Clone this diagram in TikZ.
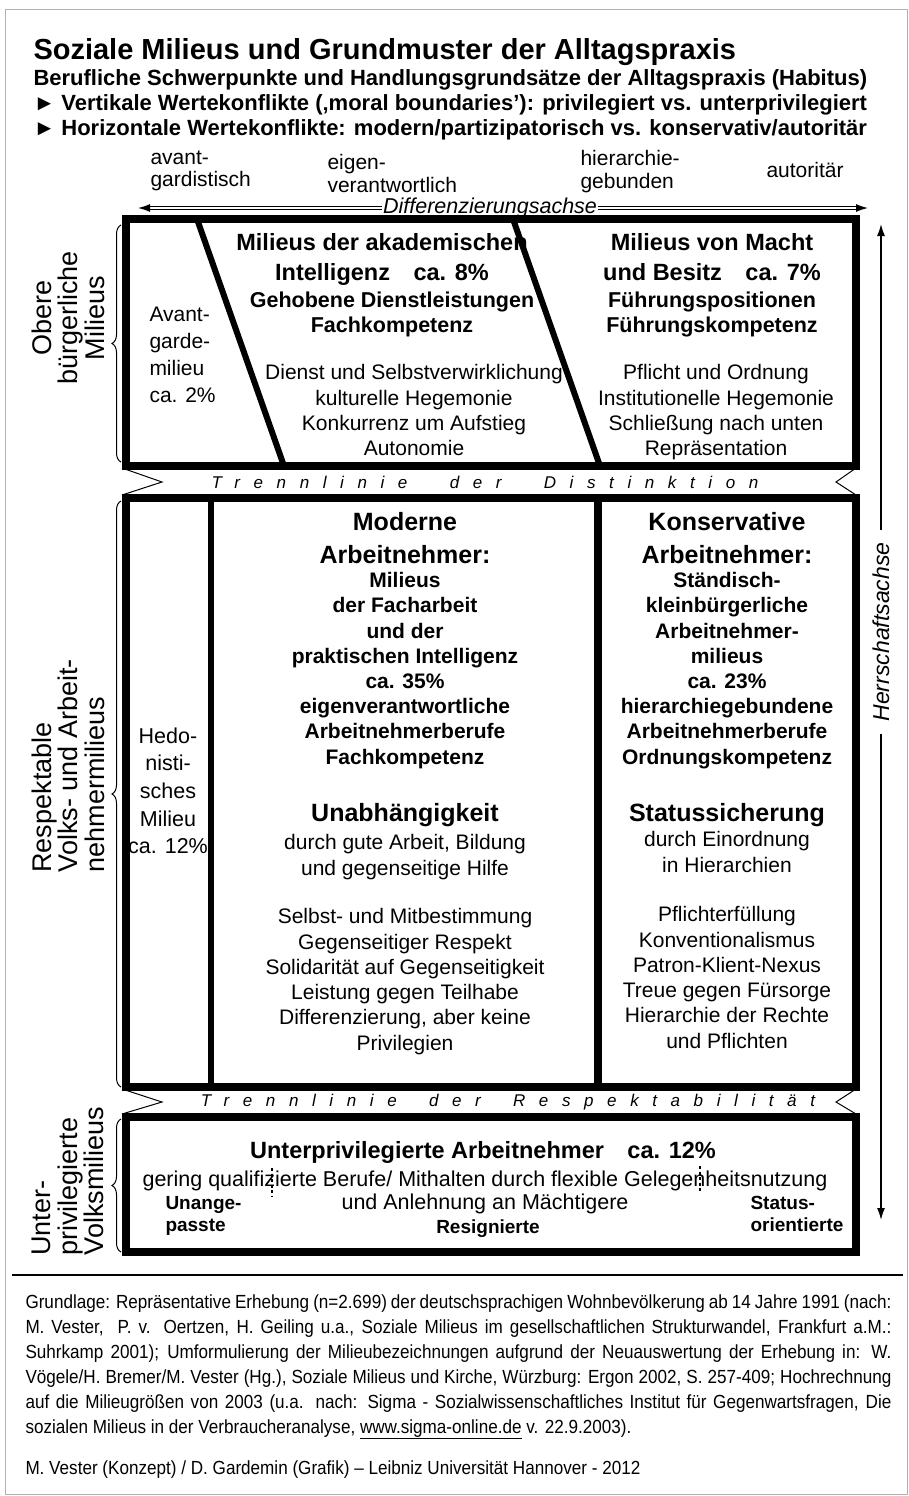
\documentclass[tikz,border=0pt]{standalone}
\usepackage{fontspec}
\setmainfont{Liberation Sans}
\newfontfamily\narrowfont[FakeStretch=0.9]{Liberation Sans}
\newfontfamily\trennfont[LetterSpace=80]{Liberation Sans}
\usetikzlibrary{positioning,arrows.meta,decorations.pathreplacing}
\newcommand\fsz[2]{\fontsize{#1}{#2}\selectfont}

\begin{document}
\begin{tikzpicture}[x=1pt,y=-1pt,line width=1pt,
		frame/.style={line width=8pt},
		bar/.style={line width=6pt},
		txt/.style={inner sep=0pt,anchor=north,align=center},
		normal/.style={txt,font=\fsz{21}{25.3}},
		links/.style={inner sep=0pt,anchor=north west,align=left},
		seite/.style={inner sep=0pt,rotate=90,font=\fsz{27}{26.5}},
		trenn/.style={inner sep=0pt,font=\fsz{17}{17}\trennfont\itshape},
		achse/.style={-{Latex[length=12pt,width=8pt]}},
		klammer/.style={decorate,decoration={brace,amplitude=9pt}}]
	\def\xl{126}
	\def\xr{856}
	\def\ya{219}
	\def\yb{466}
	\def\yc{498}
	\def\yd{1087}
	\def\ye{1117}
	\def\yf{1252}
	\useasboundingbox (0,0) rectangle (909,1496);
	\draw[gray!60] (5,10) rectangle (907,1494);
	% Titel
	\node[links,font=\fsz{29}{29}\bfseries] (titel) at (33,38) {Soziale Milieus und Grundmuster der Alltagspraxis};
	\node[links,font=\fsz{22}{25}\bfseries] (habitus) at (33,69) {Berufliche Schwerpunkte und Handlungsgrundsätze der Alltagspraxis (Habitus)\\
		► Vertikale Wertekonflikte (‚moral boundaries’): privilegiert vs. unterprivilegiert\\
		► Horizontale Wertekonflikte: modern/partizipatorisch vs. konservativ/autoritär};
	% Differenzierungsachse
	\node[links,font=\fsz{21}{22.5}] (avant) at (150,150) {avant-\\gardistisch};
	\node[links,font=\fsz{21}{22.5}] (eigen) at (327,154) {eigen-\\verantwortlich};
	\node[links,font=\fsz{21}{22.5}] (hierarchie) at (580,150) {hierarchie-\\gebunden};
	\node[links,font=\fsz{21}{22.5}] (autoritaer) at (766,162) {autoritär};
	\node[inner sep=1pt,font=\fsz{21.5}{21.5}\itshape] (diff) at (490,208) {Differenzierungsachse};
	\coordinate (dl) at (138,208);
	\coordinate (dr) at (868,208);
	\draw[achse,double,double distance=1.8pt,line width=1.2pt] (diff) -- (dl);
	\draw[achse,double,double distance=1.8pt,line width=1.2pt] (diff) -- (dr);
	% Herrschaftsachse
	\node[rotate=90,inner sep=12pt,font=\fsz{23}{23}\itshape] (herr) at (881,632) {Herrschaftsachse};
	\coordinate (ho) at (881,224);
	\coordinate (hu) at (881,1220);
	\draw[achse,line width=1.5pt] (herr) -- (ho);
	\draw[achse,line width=1.5pt] (herr) -- (hu);
	% obere Milieus
	\draw[frame] (\xl,\ya) rectangle (\xr,\yb);
	\draw[bar] (197,\ya) -- (284,\yb);
	\draw[bar] (513,\ya) -- (600,\yb);
	\node[links,font=\fsz{21}{27}] (avantgarde) at (149,307) {Avant-\\garde-\\milieu\\ca. 2\%};
	\node[txt,font=\fsz{23.5}{30}\bfseries] (akademisch) at (382,233) {Milieus der akademischen\\Intelligenz\quad ca. 8\%};
	\node[txt,font=\fsz{21.5}{25.3}\bfseries] (gehoben) at (392,291) {Gehobene Dienstleistungen\\Fachkompetenz};
	\node[normal] (dienst) at (414,364) {Dienst und Selbstverwirklichung\\kulturelle Hegemonie\\Konkurrenz um Aufstieg\\Autonomie};
	\node[txt,font=\fsz{23.5}{30}\bfseries] (macht) at (712,233) {Milieus von Macht\\und Besitz\quad ca. 7\%};
	\node[txt,font=\fsz{21.5}{25.3}\bfseries] (fuehrung) at (712,291) {Führungspositionen\\Führungskompetenz};
	\node[normal] (ordnung) at (716,364) {Pflicht und Ordnung\\Institutionelle Hegemonie\\Schließung nach unten\\Repräsentation};
	% respektable Milieus
	\draw[frame] (\xl,\yc) rectangle (\xr,\yd);
	\draw[line width=6pt] (211,\yc) -- (211,\yd);
	\draw[line width=8pt] (598,\yc) -- (598,\yd);
	\node[txt,font=\fsz{21.5}{27.7}] (hedo) at (168,727) {Hedo-\\nisti-\\sches\\Milieu\\ca. 12\%};
	\node[txt,font=\fsz{25}{33}\bfseries] (moderne) at (405,512) {Moderne\\Arbeitnehmer:};
	\node[txt,font=\fsz{21}{25.2}\bfseries] (facharbeit) at (405,572) {Milieus\\der Facharbeit\\und der\\praktischen Intelligenz\\ca. 35\%\\eigenverantwortliche\\Arbeitnehmerberufe\\Fachkompetenz};
	\node[txt,font=\fsz{25}{30}\bfseries] (unabh) at (405,803) {Unabhängigkeit};
	\node[normal] (arbeit) at (405,834) {durch gute Arbeit, Bildung\\und gegenseitige Hilfe};
	\node[normal] (selbst) at (405,908) {Selbst- und Mitbestimmung\\Gegenseitiger Respekt\\Solidarität auf Gegenseitigkeit\\Leistung gegen Teilhabe\\Differenzierung, aber keine\\Privilegien};
	\node[txt,font=\fsz{25}{33}\bfseries] (konservativ) at (727,512) {Konservative\\Arbeitnehmer:};
	\node[txt,font=\fsz{21}{25.2}\bfseries] (staendisch) at (727,572) {Ständisch-\\kleinbürgerliche\\Arbeitnehmer-\\milieus\\ca. 23\%\\hierarchiegebundene\\Arbeitnehmerberufe\\Ordnungskompetenz};
	\node[txt,font=\fsz{25}{30}\bfseries] (status) at (727,803) {Statussicherung};
	\node[normal] (einordnung) at (727,831) {durch Einordnung\\in Hierarchien};
	\node[normal] (pflicht) at (727,906) {Pflichterfüllung\\Konventionalismus\\Patron-Klient-Nexus\\Treue gegen Fürsorge\\Hierarchie der Rechte\\und Pflichten};
	% unterprivilegierte Milieus
	\draw[frame] (\xl,\ye) rectangle (\xr,\yf);
	\node[txt,font=\fsz{23.5}{28}\bfseries] (unterpriv) at (483,1141) {Unterprivilegierte Arbeitnehmer\quad ca. 12\%};
	\node[txt,font=\fsz{21.5}{23}] (gering) at (485,1170) {gering qualifizierte Berufe/ Mithalten durch flexible Gelegenheitsnutzung\\und Anlehnung an Mächtigere};
	\node[txt,font=\fsz{19}{21.5}\bfseries] (resigniert) at (488,1219) {Resignierte};
	\node[links,font=\fsz{19}{21.5}\bfseries] (unangepasst) at (165,1196) {Unange-\\passte};
	\node[links,font=\fsz{19}{21.5}\bfseries] (statusorient) at (750,1196) {Status-\\orientierte};
	\foreach \x/\o/\u in {272/1168/1197,700/1166/1192}
		\draw[line width=1.5pt,dash pattern=on 3pt off 2.5pt] (\x,\o) -- (\x,\u);
	% Trennlinien
	\node[trenn] (distinktion) at (485,482) {Trennlinie\hspace{24pt} der\hspace{24pt} Distinktion};
	\node[trenn] (respekt) at (508,1102) {Trennlinie\hspace{14pt} der\hspace{14pt} Respektabilität};
	\foreach \o/\u in {\yb/\yc,\yd/\ye}{
		\draw (\xl-4,\o+2) -- (162,{(\o+\u)/2}) -- (\xl-4,\u-3);
		\draw (\xr,\o+2) -- (836,{(\o+\u)/2}) -- (\xr,\u-3);
	}
	% Klammern
	\draw[klammer] (121,\yb-4) -- (121,\ya+6);
	\draw[klammer] (121,\yd) -- (121,\yc+3);
	\draw[klammer] (121,\yf) -- (121,\ye+2);
	\node[seite,align=center] (obere) at (68,318) {Obere\\bürgerliche\\Milieus};
	\node[seite,align=left,anchor=west] (respektable) at (68,873) {Respektable\\Volks- und Arbeit-\\nehmermilieus};
	\node[seite,align=left,anchor=west] (unter) at (68,1256) {Unter-\\privilegierte\\Volksmilieus};
	% Quelle
	\draw[line width=1.2pt] (12,1275) -- (903,1275);
	\node[links,text width=866pt,align=justify,font=\fsz{19}{25}\narrowfont] (quelle) at (25,1294) {Grundlage: Repräsentative Erhebung (n=2.699) der deutschsprachigen Wohnbevölkerung ab 14 Jahre 1991 (nach:\linebreak
		M. Vester,\ \ P. v. Oertzen, H. Geiling u.a., Soziale Milieus im gesellschaftlichen Strukturwandel, Frankfurt a.M.:\linebreak
		Suhrkamp 2001); Umformulierung der Milieubezeichnungen aufgrund der Neuauswertung der Erhebung in: W.\linebreak
		Vögele/H. Bremer/M. Vester (Hg.), Soziale Milieus und Kirche, Würzburg: Ergon 2002, S. 257-409; Hochrechnung\linebreak
		auf die Milieugrößen von 2003 (u.a. nach: Sigma - Sozialwissenschaftliches Institut für Gegenwartsfragen, Die\linebreak
		sozialen Milieus in der Verbraucheranalyse, \underline{www.sigma-online.de} v. 22.9.2003).};
	\node[links,font=\fsz{19}{25}\narrowfont] (vester) at (25,1460) {M. Vester (Konzept) / D. Gardemin (Grafik) – Leibniz Universität Hannover - 2012};
\end{tikzpicture}
\end{document}
